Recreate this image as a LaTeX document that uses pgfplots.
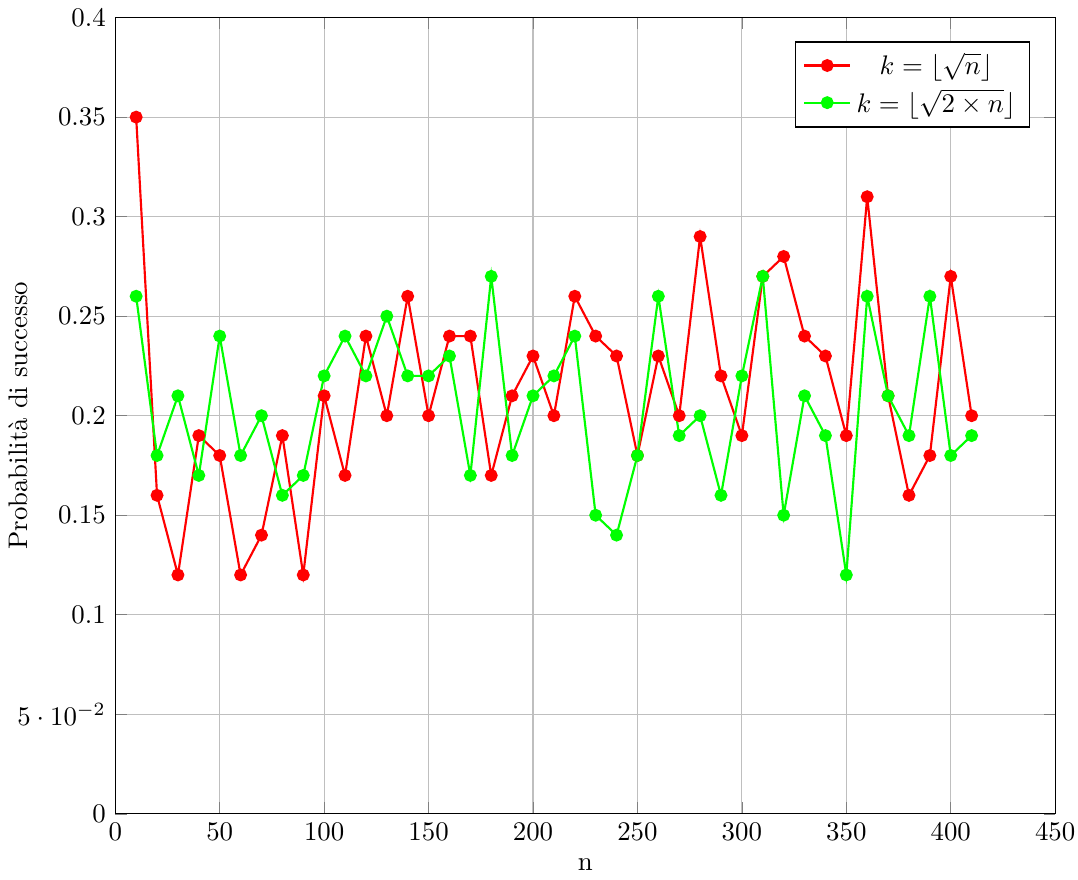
\documentclass[border=0pt]{standalone}
\usepackage{pgfplots}
\pgfplotsset{compat=1.18}
\begin{document}
\begin{tikzpicture}
\begin{axis}[
  scale only axis,
  width=350pt, height=296.5pt,
  xmin=0, xmax=450, ymin=0, ymax=0.4,
  xtick={0,50,...,450},
  ytick={0,0.05,...,0.4},
  grid=major,
  xticklabel style={inner xsep=1pt},
  xlabel={n},
  ylabel={Probabilità di successo},
  ylabel style={at={(axis description cs:-0.103,0.5)},anchor=center},
  legend cell align=center,
  legend style={at={(0.973,0.97)},anchor=north east},
]
\addplot[red, thick, mark=*, mark size=2pt] coordinates {
(10,0.35)(20,0.16)(30,0.12)(40,0.19)(50,0.18)(60,0.12)(70,0.14)(80,0.19)(90,0.12)(100,0.21)
(110,0.17)(120,0.24)(130,0.20)(140,0.26)(150,0.20)(160,0.24)(170,0.24)(180,0.17)(190,0.21)(200,0.23)
(210,0.20)(220,0.26)(230,0.24)(240,0.23)(250,0.18)(260,0.23)(270,0.20)(280,0.29)(290,0.22)(300,0.19)
(310,0.27)(320,0.28)(330,0.24)(340,0.23)(350,0.19)(360,0.31)(370,0.21)(380,0.16)(390,0.18)(400,0.27)
(410,0.20)};
\addlegendentry{$k=\lfloor\sqrt{n}\rfloor$}
\addplot[green, thick, mark=*, mark size=2pt] coordinates {
(10,0.26)(20,0.18)(30,0.21)(40,0.17)(50,0.24)(60,0.18)(70,0.20)(80,0.16)(90,0.17)(100,0.22)
(110,0.24)(120,0.22)(130,0.25)(140,0.22)(150,0.22)(160,0.23)(170,0.17)(180,0.27)(190,0.18)(200,0.21)
(210,0.22)(220,0.24)(230,0.15)(240,0.14)(250,0.18)(260,0.26)(270,0.19)(280,0.20)(290,0.16)(300,0.22)
(310,0.27)(320,0.15)(330,0.21)(340,0.19)(350,0.12)(360,0.26)(370,0.21)(380,0.19)(390,0.26)(400,0.18)
(410,0.19)};
\addlegendentry{$k=\lfloor\sqrt{2\times n}\rfloor$}
\end{axis}
\end{tikzpicture}
\end{document}
